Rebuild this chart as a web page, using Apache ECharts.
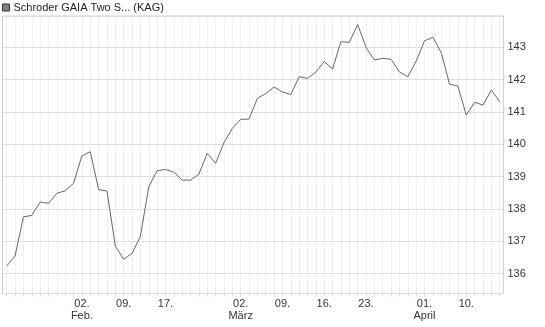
<!DOCTYPE html>
<html>
<head>
<meta charset="utf-8">
<script src="https://cdn.jsdelivr.net/npm/echarts@6/dist/echarts.min.js"></script>
<style>
html,body{margin:0;padding:0;background:#fff;}
#c{width:545px;height:327px;}
</style>
</head>
<body>
<div id="c"></div>
<script>
const seriesName = 'Schroder GAIA Two S... (KAG)';
const dates = ['01-20','01-21','01-22','01-23','01-26','01-27','01-28','01-29','01-30',
'02-02','02-03','02-04','02-05','02-06','02-09','02-10','02-11','02-12','02-13','02-17','02-18','02-19','02-20','02-23','02-24','02-25','02-26','02-27',
'03-02','03-03','03-04','03-05','03-06','03-09','03-10','03-11','03-12','03-13','03-16','03-17','03-18','03-19','03-20','03-23','03-24','03-25','03-26','03-27','03-30','03-31',
'04-01','04-02','04-07','04-08','04-09','04-10','04-13','04-14','04-15','04-16'];
const values = [136.23,136.54,137.75,137.80,138.21,138.17,138.48,138.56,138.79,
139.64,139.77,138.60,138.55,136.85,136.44,136.62,137.15,138.68,139.18,139.22,139.14,138.89,138.89,139.07,139.72,139.41,140.05,140.49,
140.77,140.78,141.42,141.57,141.77,141.62,141.54,142.09,142.04,142.23,142.56,142.33,143.18,143.15,143.71,143.00,142.61,142.66,142.63,142.24,142.09,142.57,
143.20,143.31,142.84,141.86,141.80,140.90,141.30,141.21,141.68,141.32];
const xTickLabels = {'02-02':'02.\nFeb.','02-09':'09.','02-17':'17.','03-02':'02.\nMärz','03-09':'09.','03-16':'16.','03-23':'23.','04-01':'01.\nApril','04-10':'10.'};
const yMin = 135.38, yMax = 143.97;

const font = 'Liberation Sans, Arial, sans-serif';
const chart = echarts.init(document.getElementById('c'), null, {renderer:'canvas'});
chart.setOption({
  animation: false,
  backgroundColor: '#fff',
  legend: {
    show: true, left: 2, top: 2, padding: 0,
    itemWidth: 7, itemHeight: 7, itemGap: 4,
    icon: 'rect',
    textStyle: {fontFamily: font, fontSize: 11, color: '#222', padding:[0,0,0,-1]},
    data: [{name: seriesName, itemStyle: {color: '#808080', borderColor: '#333', borderWidth: 1}}]
  },
  grid: [
    {left: 2.5, top: 16, right: 41.5, bottom: 33.5, show: true, borderColor: '#d0d0d0', borderWidth: 1, backgroundColor: 'transparent'},
    {left: 6.7, top: 16, right: 45.3, bottom: 33.5}
  ],
  xAxis: [
    {gridIndex: 0, type: 'value', show: false, min: 0, max: 1},
    {gridIndex: 1, type: 'category', data: dates, boundaryGap: false,
     axisLine: {show: false},
     axisTick: {show: true, length: 3, interval: 0, lineStyle: {color: '#d8d8d8'}},
     splitLine: {show: true, interval: 0, lineStyle: {color: '#efefef', width: 1}},
     axisLabel: {
       interval: function(i, v){ return xTickLabels[v] !== undefined; },
       formatter: function(v){ return xTickLabels[v] || ''; },
       fontFamily: font, fontSize: 11, color: '#333', margin: 4, lineHeight: 12.5
     }}
  ],
  yAxis: [
    {gridIndex: 0, type: 'value', position: 'right', min: yMin, max: yMax,
     splitNumber: 8, minInterval: 1, maxInterval: 1,
     axisLine: {show: false},
     axisTick: {show: false},
     splitLine: {show: true, lineStyle: {color: '#dedede', width: 1}},
     axisLabel: {showMinLabel: false, showMaxLabel: false, fontFamily: font, fontSize: 11, color: '#333', margin: 4}},
    {gridIndex: 1, type: 'value', show: false, min: yMin, max: yMax}
  ],
  series: [{
    name: seriesName, type: 'line', xAxisIndex: 1, yAxisIndex: 1,
    data: values, showSymbol: false, symbol: 'none',
    lineStyle: {color: '#666', width: 1},
    itemStyle: {color: '#808080'}
  }]
});
</script>
</body>
</html>
